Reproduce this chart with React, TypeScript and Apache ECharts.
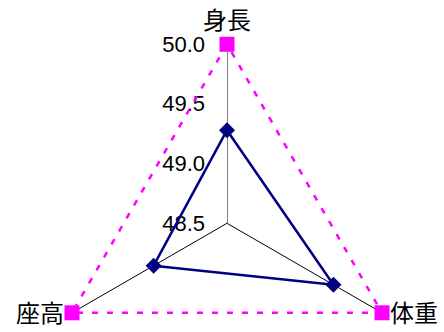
import React, { useEffect, useRef } from "react";
import * as echarts from "echarts";

const categories = ["身長", "座高", "体重"];
const seriesActual = [49.28, 49.21, 49.53];
const seriesMax = [50.0, 50.0, 50.0];
const axisMin = 48.5;
const axisMax = 50.0;
const axisInterval = 0.5;

const CX = 227;
const CY = 223.3;
const R = 179;
const FONT = "'Liberation Sans', 'Noto Sans CJK JP', sans-serif";

export default function App() {
  const ref = useRef<HTMLDivElement>(null);
  useEffect(() => {
    document.body.style.margin = "0";
    const chart = echarts.init(ref.current!, undefined, { renderer: "svg" });
    const nameStyle = { fontSize: 24, fill: "#000", fontFamily: FONT };
    chart.setOption({
      animation: false,
      backgroundColor: "#fff",
      textStyle: { fontFamily: FONT },
      radar: {
        z: 1,
        center: [CX, CY],
        radius: R,
        startAngle: 90,
        splitNumber: 3,
        shape: "polygon",
        indicator: categories.map((c) => ({ name: c, min: axisMin, max: axisMax })),
        axisName: { show: false },
        axisLine: { lineStyle: { color: "#000", width: 1 } },
        splitLine: { show: false },
        splitArea: { show: false },
        axisTick: { show: false },
        axisLabel: { show: false },
      },
      grid: { z: 2, left: CX, top: CY - R, width: 10, height: R },
      xAxis: { type: "value", show: false },
      yAxis: {
        type: "value",
        z: 2,
        min: axisMin,
        max: axisMax,
        interval: axisInterval,
        position: "left",
        axisLine: { show: true, lineStyle: { color: "#808080", width: 1 } },
        axisTick: { show: false },
        splitLine: { show: false },
        axisLabel: {
          show: true,
          margin: 22,
          fontSize: 22,
          color: "#000",
          fontFamily: FONT,
          formatter: (v: number) => v.toFixed(1),
        },
      },
      series: [
        {
          type: "radar",
          z: 3,
          symbol: "diamond",
          symbolSize: 16,
          silent: true,
          itemStyle: { color: "#000080" },
          lineStyle: { color: "#000080", width: 2.5 },
          data: [{ value: seriesActual, name: "actual" }],
        },
        {
          type: "radar",
          z: 4,
          symbol: "rect",
          symbolSize: 15,
          silent: true,
          itemStyle: { color: "#FF00FF" },
          lineStyle: { color: "#FF00FF", width: 2.5, type: [6, 9] },
          data: [{ value: seriesMax, name: "max" }],
        },
      ],
      graphic: [
        {
          type: "text",
          x: CX,
          y: 20,
          style: { ...nameStyle, text: categories[0], align: "center", verticalAlign: "middle" },
        },
        {
          type: "text",
          x: 64,
          y: 313,
          style: { ...nameStyle, text: categories[1], align: "right", verticalAlign: "middle" },
        },
        {
          type: "text",
          x: 390,
          y: 313,
          style: { ...nameStyle, text: categories[2], align: "left", verticalAlign: "middle" },
        },
      ],
    });
    return () => chart.dispose();
  }, []);
  return <div ref={ref} style={{ width: 444, height: 332 }} />;
}
